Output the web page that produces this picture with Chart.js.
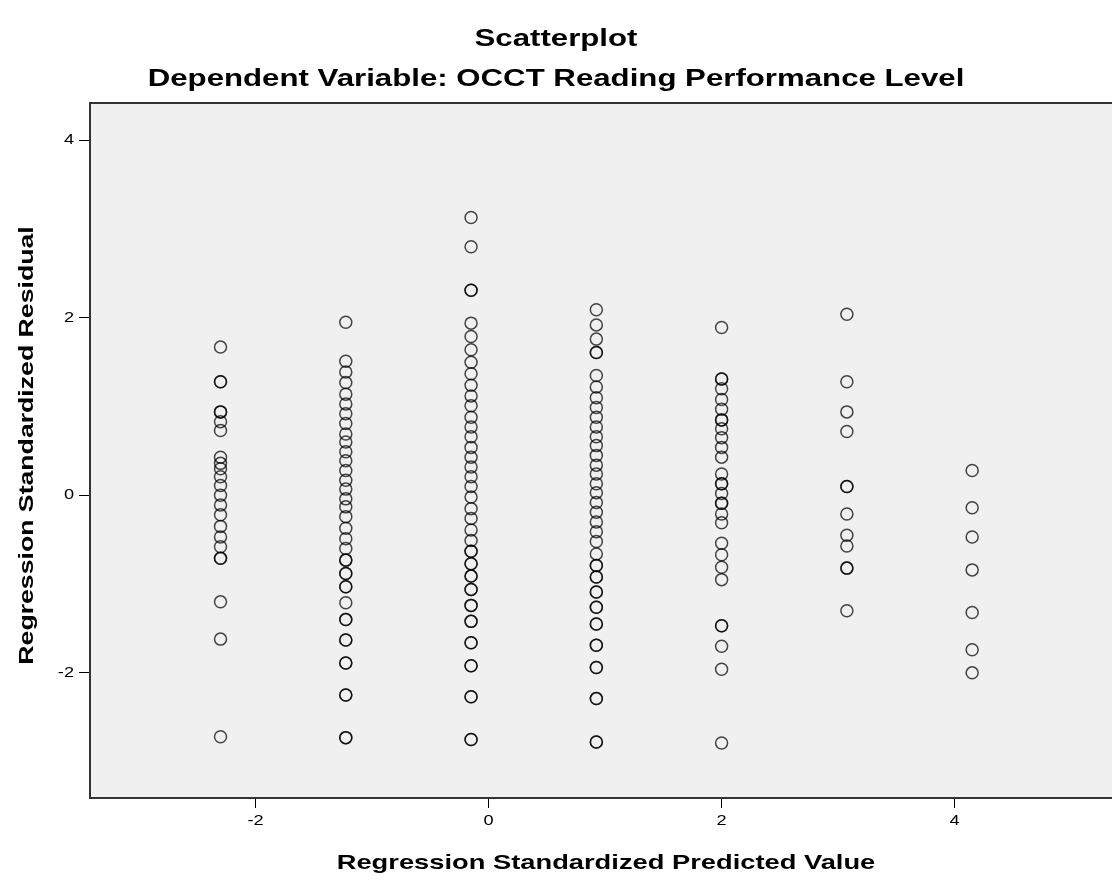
<!DOCTYPE html>
<html>
<head>
<meta charset="utf-8">
<script src="https://cdn.jsdelivr.net/npm/chart.js@4.4.1/dist/chart.umd.min.js"></script>
<style>
    html, body { margin: 0; padding: 0; background: #fff; }
    #wrap { width: 1112px; height: 880px; }
</style>
</head>
<body>
<div id="wrap"><canvas id="scatterChart" width="1112" height="880"></canvas></div>
<script>
// Predicted value of each column (x) and the residuals stacked on it (y)
const predicted = [-2.30, -1.225, -0.15, 0.925, 2.00, 3.075, 4.15];

const resid1 = [1.67, 1.28, 1.28, 0.94, 0.94, 0.83, 0.73, 0.43, 0.36, 0.30, 0.21, 0.11, 0.00,
    -0.11, -0.22, -0.35, -0.47, -0.58, -0.71, -0.71, -1.20, -1.62, -2.72];
const resid2 = [1.95, 1.51, 1.39, 1.27, 1.14, 1.03, 0.92, 0.81, 0.69, 0.60, 0.49, 0.39, 0.28, 0.17,
    0.07, -0.04, -0.13, -0.24, -0.37, -0.49, -0.60, -0.73, -0.73, -0.88, -0.88, -1.03, -1.03,
    -1.21, -1.40, -1.40, -1.63, -1.63, -1.89, -1.89, -2.25, -2.25, -2.73, -2.73];
const resid3 = [3.13, 2.80, 2.31, 2.31, 1.94, 1.79, 1.64, 1.50, 1.37, 1.24, 1.12, 1.01, 0.88, 0.77,
    0.66, 0.54, 0.43, 0.32, 0.21, 0.10, -0.02, -0.15, -0.26, -0.39, -0.51, -0.63, -0.63, -0.77,
    -0.77, -0.91, -0.91, -1.06, -1.06, -1.24, -1.24, -1.42, -1.42, -1.66, -1.66, -1.92, -1.92,
    -2.27, -2.27, -2.75, -2.75];
const resid4 = [2.09, 1.92, 1.76, 1.61, 1.61, 1.35, 1.22, 1.10, 0.99, 0.88, 0.77, 0.66, 0.56, 0.45,
    0.34, 0.24, 0.13, 0.03, -0.08, -0.19, -0.30, -0.41, -0.52, -0.66, -0.79, -0.79, -0.92, -0.92,
    -1.09, -1.09, -1.26, -1.26, -1.45, -1.45, -1.69, -1.69, -1.94, -1.94, -2.29, -2.29, -2.78, -2.78];
const resid5 = [1.89, 1.31, 1.31, 1.20, 1.08, 0.97, 0.85, 0.85, 0.75, 0.65, 0.54, 0.43, 0.24, 0.13,
    0.13, 0.02, -0.09, -0.09, -0.21, -0.31, -0.54, -0.67, -0.81, -0.95, -1.47, -1.47, -1.70, -1.96, -2.79];
const resid6 = [2.04, 1.28, 0.94, 0.72, 0.10, 0.10, -0.21, -0.45, -0.57, -0.82, -0.82, -1.30];
const resid7 = [0.28, -0.14, -0.47, -0.84, -1.32, -1.74, -2.00];

const residuals = [resid1, resid2, resid3, resid4, resid5, resid6, resid7];
const xTicks = [-2, 0, 2, 4];
const yTicks = [-2, 0, 2, 4];

const titleText = 'Scatterplot';
const subtitleText = 'Dependent Variable: OCCT Reading Performance Level';
const xTitleText = 'Regression Standardized Predicted Value';
const yTitleText = 'Regression Standardized Residual';

const points = [];
residuals.forEach((col, i) => {
    col.forEach(r => points.push({ x: predicted[i], y: r }));
});

const fontFamily = '"Liberation Sans", Arial, sans-serif';
const STRETCH = 1.3; // SPSS export widens its text

// text drawn a bit wider than normal, optionally turned for the y axis
function wideText(ctx, text, x, y, font, align, vertical) {
    ctx.save();
    ctx.translate(x, y);
    if (vertical) ctx.rotate(-Math.PI / 2);
    ctx.scale(STRETCH, 1);
    ctx.font = font;
    ctx.fillStyle = '#000';
    ctx.textAlign = align;
    ctx.textBaseline = 'middle';
    ctx.fillText(text, 0, 0);
    ctx.restore();
}

// grey plot background plus the top edge of the frame
const framePlugin = {
    id: 'frame',
    beforeDraw(chart) {
        const { ctx, chartArea: a } = chart;
        ctx.save();
        ctx.fillStyle = '#f0f0f0';
        ctx.fillRect(a.left, a.top, a.right - a.left, a.bottom - a.top);
        ctx.restore();
    },
    afterDraw(chart) {
        const { ctx, chartArea: a } = chart;
        ctx.save();
        ctx.strokeStyle = '#333';
        ctx.lineWidth = 2;
        ctx.beginPath();
        ctx.moveTo(a.left, a.top);
        ctx.lineTo(a.right, a.top);
        ctx.stroke();
        ctx.restore();
    }
};

// titles and tick labels
const textPlugin = {
    id: 'texts',
    afterDraw(chart) {
        const { ctx, chartArea: a, scales } = chart;
        const w = chart.width;
        wideText(ctx, titleText, w / 2, 39, `bold 24px ${fontFamily}`, 'center');
        wideText(ctx, subtitleText, w / 2, 79, `bold 24px ${fontFamily}`, 'center');
        wideText(ctx, xTitleText, (a.left + a.right) / 2 + 5, 863, `bold 21px ${fontFamily}`, 'center');
        wideText(ctx, yTitleText, 27, (a.top + a.bottom) / 2 - 5, `bold 20.5px ${fontFamily}`, 'center', true);

        scales.x.ticks.forEach(t => {
            wideText(ctx, String(t.value), scales.x.getPixelForValue(t.value), a.bottom + 23,
                `14px ${fontFamily}`, 'center');
        });
        scales.y.ticks.forEach(t => {
            wideText(ctx, String(t.value), a.left - 16, scales.y.getPixelForValue(t.value),
                `14px ${fontFamily}`, 'right');
        });
    }
};

new Chart(document.getElementById('scatterChart').getContext('2d'), {
    type: 'scatter',
    data: {
        datasets: [{
            label: 'Residuals',
            data: points,
            pointRadius: 6,
            pointHoverRadius: 6,
            pointBorderWidth: 1.5,
            pointBackgroundColor: 'transparent',
            pointBorderColor: 'rgba(0,0,0,0.72)'
        }]
    },
    options: {
        responsive: false,
        animation: false,
        layout: { autoPadding: false, padding: { top: 103, right: 0, bottom: 0, left: 0 } },
        plugins: {
            legend: { display: false },
            tooltip: { enabled: false }
        },
        scales: {
            x: {
                type: 'linear',
                min: -3.42,
                max: 5.35,
                afterFit: s => { s.height = 82; s.paddingLeft = 0; s.paddingRight = 0; },
                afterBuildTicks: s => { s.ticks = xTicks.map(v => ({ value: v })); },
                ticks: { display: false },
                grid: { drawOnChartArea: false, drawTicks: true, tickLength: 10, color: '#000' },
                border: { display: true, color: '#333', width: 2 }
            },
            y: {
                type: 'linear',
                min: -3.41,
                max: 4.42,
                afterFit: s => { s.width = 90; s.paddingTop = 0; s.paddingBottom = 0; },
                afterBuildTicks: s => { s.ticks = yTicks.map(v => ({ value: v })); },
                ticks: { display: false },
                grid: { drawOnChartArea: false, drawTicks: true, tickLength: 11, color: '#000' },
                border: { display: true, color: '#333', width: 2 }
            }
        }
    },
    plugins: [framePlugin, textPlugin]
});
</script>
</body>
</html>
